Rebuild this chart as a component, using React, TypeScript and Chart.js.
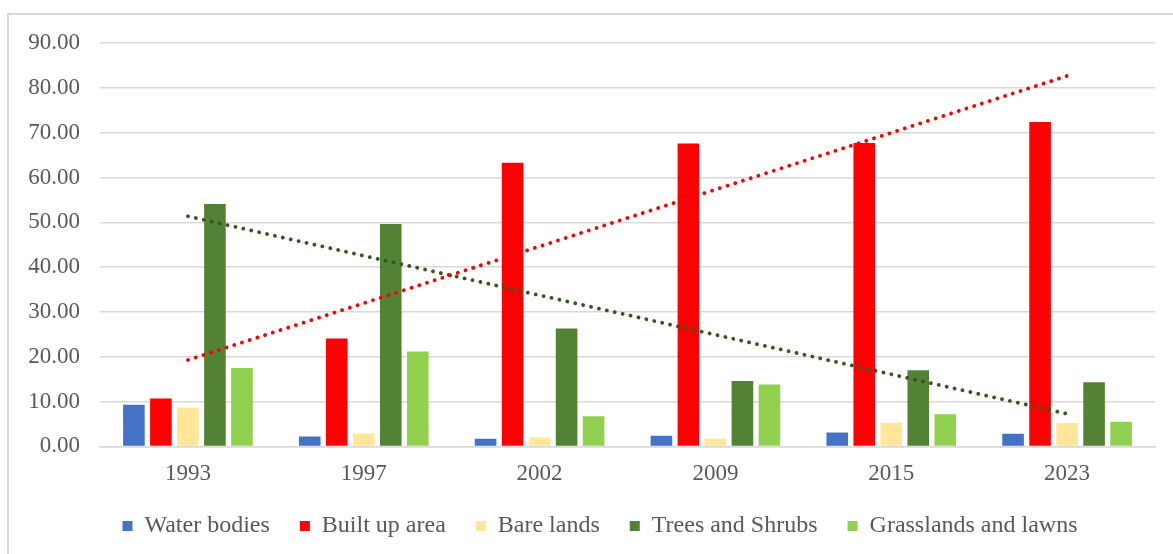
import React, { useEffect, useRef } from "react";
import { Chart, registerables } from "chart.js";

Chart.register(...registerables);

const years = ["1993", "1997", "2002", "2009", "2015", "2023"];
const waterBodies = [9.3, 2.2, 1.7, 2.4, 3.1, 2.8];
const builtUpArea = [10.7, 24.1, 63.3, 67.6, 67.7, 72.4];
const bareLands = [8.6, 2.9, 2.0, 1.7, 5.3, 5.2];
const treesAndShrubs = [54.1, 49.6, 26.3, 14.6, 17.0, 14.3];
const grasslandsAndLawns = [17.5, 21.2, 6.7, 13.8, 7.2, 5.5];
const yTicks = [0, 10, 20, 30, 40, 50, 60, 70, 80, 90];

// Linear (least-squares) trendline over category index, as in the source chart
function linearTrend(values: number[]): number[] {
  const n = values.length;
  const xs = values.map((_, i) => i + 1);
  const mx = xs.reduce((a, b) => a + b, 0) / n;
  const my = values.reduce((a, b) => a + b, 0) / n;
  let sxy = 0;
  let sxx = 0;
  xs.forEach((x, i) => {
    sxy += (x - mx) * (values[i] - my);
    sxx += (x - mx) * (x - mx);
  });
  const slope = sxy / sxx;
  return xs.map((x) => my + slope * (x - mx));
}

const FONT = "'Liberation Serif', 'Times New Roman', serif";
const TEXT_COLOR = "#595959";

// Shift the (centred) legend row slightly right, as in the source layout
const legendShift = {
  id: "legendShift",
  afterLayout(chart: any) {
    if (chart.legend) {
      chart.legend.left += 18;
      chart.legend.right += 18;
    }
  },
};

export default function App() {
  const canvasRef = useRef<HTMLCanvasElement | null>(null);

  useEffect(() => {
    document.body.style.margin = "0";
    document.body.style.overflow = "hidden";
    const canvas = canvasRef.current;
    if (!canvas) return;
    const barCommon = {
      type: "bar" as const,
      barPercentage: 0.8,
      categoryPercentage: 0.768,
      borderWidth: 0,
      order: 2,
    };
    const trendCommon = {
      type: "line" as const,
      borderWidth: 3.8,
      borderCapStyle: "round" as const,
      borderDash: [0.1, 8],
      pointRadius: 0,
      fill: false,
      order: 1,
      tension: 0,
    };
    const defaultGen = (Chart.defaults.plugins.legend.labels as any).generateLabels;
    const chart = new Chart(canvas, {
      data: {
        labels: years,
        datasets: [
          { ...barCommon, label: "Water bodies", data: waterBodies, backgroundColor: "#4472C4" },
          { ...barCommon, label: "Built up area", data: builtUpArea, backgroundColor: "#FF0000" },
          { ...barCommon, label: "Bare lands", data: bareLands, backgroundColor: "#FFE699" },
          { ...barCommon, label: "Trees and Shrubs", data: treesAndShrubs, backgroundColor: "#548235" },
          { ...barCommon, label: "Grasslands and lawns", data: grasslandsAndLawns, backgroundColor: "#92D050" },
          { ...trendCommon, label: "Linear (Built up area)", data: linearTrend(builtUpArea), borderColor: "#FF0000" },
          { ...trendCommon, label: "Linear (Trees and Shrubs)", data: linearTrend(treesAndShrubs), borderColor: "#375623" },
        ],
      } as any,
      plugins: [legendShift],
      options: {
        animation: false,
        responsive: false,
        maintainAspectRatio: false,
        layout: { padding: { top: 0, right: 18, left: 0, bottom: 6 } },
        plugins: {
          tooltip: { enabled: false },
          legend: {
            position: "bottom",
            labels: {
              boxWidth: 10,
              boxHeight: 10,
              padding: 12,
              color: TEXT_COLOR,
              font: { family: FONT, size: 24 },
              generateLabels: (c: any) => {
                const items = defaultGen(c).filter(
                  (it: any) => !String(it.text).startsWith("Linear")
                );
                return items.map((it: any, i: number) => ({
                  ...it,
                  text: i < items.length - 1 ? it.text + "   " : it.text,
                }));
              },
            },
          },
        },
        scales: {
          x: {
            grid: { display: false, drawTicks: false },
            border: { display: true, color: "#d9d9d9", width: 1.5 },
            ticks: { color: TEXT_COLOR, font: { family: FONT, size: 23 }, padding: 14 },
          },
          y: {
            min: 0,
            max: 90,
            afterBuildTicks: (scale: any) => {
              scale.ticks = yTicks.map((v) => ({ value: v }));
            },
            afterFit: (scale: any) => {
              scale.width = 91;
              scale.paddingTop = 28;
              scale.paddingBottom = 0;
            },
            grid: { color: "#d9d9d9", lineWidth: 1.5, drawTicks: false },
            border: { display: false },
            ticks: {
              color: TEXT_COLOR,
              font: { family: FONT, size: 23 },
              padding: 20,
              callback: (v: any) => Number(v).toFixed(2),
            },
          },
        },
      } as any,
    });
    return () => chart.destroy();
  }, []);

  return (
    <div
      style={{
        marginLeft: 7,
        marginTop: 13,
        width: 1166,
        height: 541,
        borderLeft: "2px solid #d9d9d9",
        borderTop: "2px solid #d9d9d9",
        boxSizing: "border-box",
        background: "#fff",
      }}
    >
      <canvas ref={canvasRef} width={1164} height={539} style={{ display: "block" }} />
    </div>
  );
}
